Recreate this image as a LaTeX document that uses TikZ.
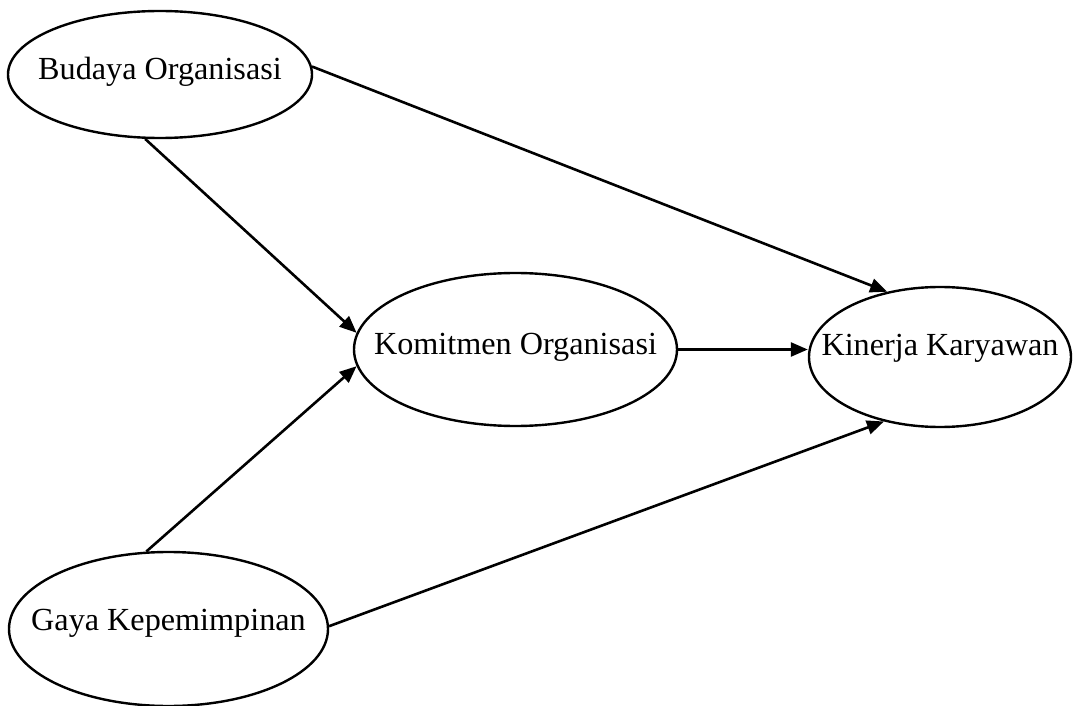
\documentclass[tikz,border=0pt]{standalone}
\usepackage{fontspec}
\setmainfont{Liberation Serif}
\usetikzlibrary{shapes.geometric,arrows.meta}

\tikzset{
  var/.style={draw, ellipse, line width=1.2pt, inner sep=0pt},
  lbl/.style={font=\fontsize{16.1}{19}\selectfont, inner sep=0pt},
  path/.style={line width=1.3pt, -{Triangle[length=8.5pt,width=7pt]}}
}

\begin{document}
\begin{tikzpicture}[x=0.5pt,y=-0.5pt]
   \useasboundingbox (0,0) rectangle (1073,706);
   % Variables
   \node[var, minimum width=152pt, minimum height=63.5pt] (bo) at (160,74.5) {};
   \node[var, minimum width=161.5pt, minimum height=76.5pt] (ko) at (515.5,349.5) {};
   \node[var, minimum width=131pt, minimum height=70pt] (ki) at (940,357) {};
   \node[var, minimum width=159.5pt, minimum height=77pt] (gk) at (168.5,629) {};
   % Labels
   \node[lbl, yshift=1.5pt] (bo-t) at (bo.center) {Budaya Organisasi};
   \node[lbl, yshift=1.2pt] (ko-t) at (ko.center) {Komitmen Organisasi};
   \node[lbl, yshift=4.5pt] (ki-t) at (ki.center) {Kinerja Karyawan};
   \node[lbl, yshift=3pt] (gk-t) at (gk.center) {Gaya Kepemimpinan};
   % Paths
   \draw[path] (bo.-103) -- (ko.174);
   \draw[path] (gk.106) -- (ko.186);
   \draw[path] (bo.3) -- (ki.129);
   \draw[path] (gk.1) -- (ki.229.5);
   \draw[path] (ko.east) -- (ki.west |- ko.east);
\end{tikzpicture}
\end{document}
